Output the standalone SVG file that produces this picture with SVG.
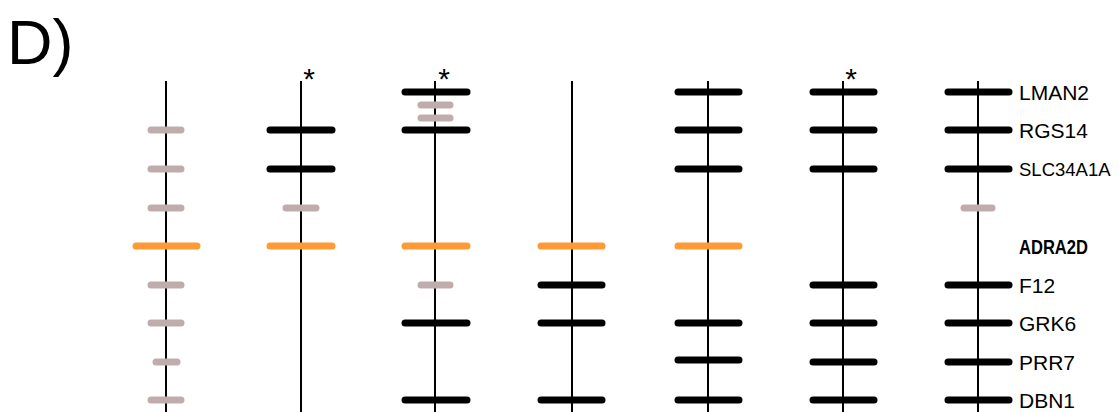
<svg xmlns="http://www.w3.org/2000/svg" width="1119" height="412" viewBox="0 0 1119 412">
<style>
.ax{stroke:#000;stroke-width:2}
.b{stroke:#000;stroke-width:7;stroke-linecap:round}
.g{stroke:#bfadad;stroke-width:7;stroke-linecap:round}
.o{stroke:#ff9b37;stroke-width:7;stroke-linecap:round}
.lbl{font-family:"Liberation Sans",Arial,sans-serif;font-size:21px;fill:#000}
.ast{font-family:"Liberation Sans",Arial,sans-serif;font-size:30px;fill:#000;text-anchor:middle}
</style>
<rect width="1119" height="412" fill="#fff"/>
<text x="7" y="64" font-family="Liberation Sans,Arial,sans-serif" font-size="63" fill="#000">D)</text>
<g id="col1">
<line class="ax" x1="166" y1="81" x2="166" y2="412"/>
<line class="g" x1="151" y1="130" x2="181" y2="130"/>
<line class="g" x1="151" y1="169" x2="181" y2="169"/>
<line class="g" x1="151" y1="208" x2="181" y2="208"/>
<line class="o" x1="136" y1="246" x2="197" y2="246"/>
<line class="g" x1="151" y1="285" x2="181" y2="285"/>
<line class="g" x1="151" y1="323" x2="181" y2="323"/>
<line class="g" x1="156" y1="362" x2="177" y2="362"/>
<line class="g" x1="151" y1="400" x2="181" y2="400"/>
</g>
<g id="col2">
<line class="ax" x1="301" y1="81" x2="301" y2="412"/>
<text class="ast" x="309" y="89">*</text>
<line class="b" x1="270" y1="130" x2="332" y2="130"/>
<line class="b" x1="270" y1="169" x2="332" y2="169"/>
<line class="g" x1="286" y1="208" x2="316" y2="208"/>
<line class="o" x1="270" y1="246" x2="332" y2="246"/>
</g>
<g id="col3">
<line class="ax" x1="435" y1="81" x2="435" y2="412"/>
<text class="ast" x="444" y="89">*</text>
<line class="b" x1="405" y1="92" x2="467" y2="92"/>
<line class="g" x1="421" y1="105" x2="450" y2="105"/>
<line class="g" x1="421" y1="118" x2="450" y2="118"/>
<line class="b" x1="405" y1="130" x2="467" y2="130"/>
<line class="o" x1="405" y1="246" x2="467" y2="246"/>
<line class="g" x1="421" y1="285" x2="450" y2="285"/>
<line class="b" x1="405" y1="323" x2="467" y2="323"/>
<line class="b" x1="405" y1="400" x2="467" y2="400"/>
</g>
<g id="col4">
<line class="ax" x1="572" y1="81" x2="572" y2="412"/>
<line class="o" x1="541" y1="246" x2="602" y2="246"/>
<line class="b" x1="541" y1="285" x2="602" y2="285"/>
<line class="b" x1="541" y1="323" x2="602" y2="323"/>
<line class="b" x1="541" y1="400" x2="602" y2="400"/>
</g>
<g id="col5">
<line class="ax" x1="708" y1="81" x2="708" y2="412"/>
<line class="b" x1="678" y1="92" x2="739" y2="92"/>
<line class="b" x1="678" y1="130" x2="739" y2="130"/>
<line class="b" x1="678" y1="169" x2="739" y2="169"/>
<line class="o" x1="678" y1="246" x2="739" y2="246"/>
<line class="b" x1="678" y1="323" x2="739" y2="323"/>
<line class="b" x1="678" y1="360" x2="739" y2="360"/>
<line class="b" x1="678" y1="400" x2="739" y2="400"/>
</g>
<g id="col6">
<line class="ax" x1="843" y1="81" x2="843" y2="412"/>
<text class="ast" x="851" y="89">*</text>
<line class="b" x1="813" y1="92" x2="874" y2="92"/>
<line class="b" x1="813" y1="130" x2="874" y2="130"/>
<line class="b" x1="813" y1="169" x2="874" y2="169"/>
<line class="b" x1="813" y1="285" x2="874" y2="285"/>
<line class="b" x1="813" y1="323" x2="874" y2="323"/>
<line class="b" x1="813" y1="362" x2="874" y2="362"/>
<line class="b" x1="813" y1="400" x2="874" y2="400"/>
</g>
<g id="col7">
<line class="ax" x1="978" y1="81" x2="978" y2="412"/>
<line class="b" x1="948" y1="92" x2="1009" y2="92"/>
<line class="b" x1="948" y1="130" x2="1009" y2="130"/>
<line class="b" x1="948" y1="169" x2="1009" y2="169"/>
<line class="g" x1="964" y1="208" x2="992" y2="208"/>
<line class="b" x1="948" y1="285" x2="1009" y2="285"/>
<line class="b" x1="948" y1="323" x2="1009" y2="323"/>
<line class="b" x1="948" y1="362" x2="1009" y2="362"/>
<line class="b" x1="948" y1="400" x2="1009" y2="400"/>
</g>
<g id="labels">
<text class="lbl" x="1019" y="100">LMAN2</text>
<text class="lbl" x="1019" y="138">RGS14</text>
<text class="lbl" x="1019" y="176" style="font-size:18.5px">SLC34A1A</text>
<text class="lbl" x="1019" y="254" font-weight="bold" textLength="69" lengthAdjust="spacingAndGlyphs">ADRA2D</text>
<text class="lbl" x="1019" y="293">F12</text>
<text class="lbl" x="1019" y="331">GRK6</text>
<text class="lbl" x="1019" y="370">PRR7</text>
<text class="lbl" x="1019" y="408">DBN1</text>
</g>
</svg>
